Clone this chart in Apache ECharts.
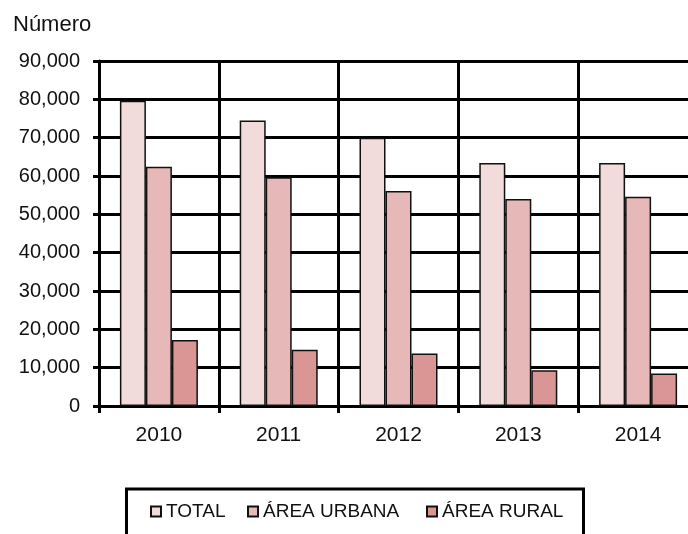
<!DOCTYPE html>
<html>
<head>
<meta charset="utf-8">
<script src="https://cdn.jsdelivr.net/npm/echarts@6/dist/echarts.min.js"></script>
<style>
html,body{margin:0;padding:0;background:#fff;}
#chart{width:688px;height:534px;}
</style>
</head>
<body>
<div id="chart"></div>
<script>
var categories = ['2010', '2011', '2012', '2013', '2014'];
var seriesNames = ['TOTAL', 'ÁREA URBANA', 'ÁREA RURAL'];
var totalValues = [79600, 74500, 70000, 63400, 63400];
var urbanaValues = [62400, 59700, 56100, 54000, 54600];
var ruralValues = [17200, 14700, 13700, 9300, 8500];
var yMin = 0, yMax = 90000, yStep = 10000;
var yAxisTitle = 'Número';

var colors = ['#F2DCDB', '#E6B9B8', '#D99694'];
var FONT = '"Liberation Sans", Arial, sans-serif';

function fmt(v) {
  return String(v).replace(/\B(?=(\d{3})+(?!\d))/g, ',');
}

var chart = echarts.init(document.getElementById('chart'), null, {renderer: 'canvas'});

function mkSeries(name, data, color) {
  return {
    name: name,
    type: 'bar',
    data: data,
    barWidth: 26,
    barGap: '0%',
    itemStyle: {color: color, borderColor: '#111', borderWidth: 1.5},
    emphasis: {disabled: true},
    z: 3
  };
}

function mkLegend(name, left) {
  return {
    data: [name],
    left: left,
    top: 502,
    padding: 0,
    itemWidth: 10,
    itemHeight: 10,
    icon: 'rect',
    selectedMode: false,
    textStyle: {fontFamily: FONT, fontSize: 19, color: '#111'}
  };
}

chart.setOption({
  animation: false,
  backgroundColor: '#fff',
  title: {
    text: yAxisTitle,
    left: 8,
    top: 9,
    textStyle: {fontFamily: FONT, fontSize: 22, fontWeight: 'normal', color: '#111'}
  },
  legend: [
    mkLegend(seriesNames[0], 150),
    mkLegend(seriesNames[1], 247),
    mkLegend(seriesNames[2], 426)
  ],
  graphic: [{
    type: 'rect',
    shape: {x: 126.5, y: 489, width: 457, height: 80},
    style: {fill: null, stroke: '#000', lineWidth: 3},
    silent: true
  }],
  grid: {
    left: 99,
    top: 61,
    width: 599,
    height: 345,
    containLabel: false,
    outerBoundsMode: 'none'
  },
  xAxis: {
    type: 'category',
    data: categories,
    boundaryGap: true,
    axisLine: {show: true, lineStyle: {color: '#000', width: 3}},
    axisTick: {show: true, length: 7, lineStyle: {color: '#000', width: 3}},
    axisLabel: {fontFamily: FONT, fontSize: 21, color: '#111', margin: 19},
    splitLine: {show: true, lineStyle: {color: '#000', width: 3}}
  },
  yAxis: {
    type: 'value',
    min: yMin,
    max: yMax,
    interval: yStep,
    axisLine: {show: true, lineStyle: {color: '#000', width: 3}},
    axisTick: {show: true, length: 6, lineStyle: {color: '#000', width: 3}},
    axisLabel: {fontFamily: FONT, fontSize: 20, color: '#111', margin: 19, formatter: fmt},
    splitLine: {show: true, lineStyle: {color: '#000', width: 3}}
  },
  series: [
    mkSeries(seriesNames[0], totalValues, colors[0]),
    mkSeries(seriesNames[1], urbanaValues, colors[1]),
    mkSeries(seriesNames[2], ruralValues, colors[2])
  ]
});
</script>
</body>
</html>
